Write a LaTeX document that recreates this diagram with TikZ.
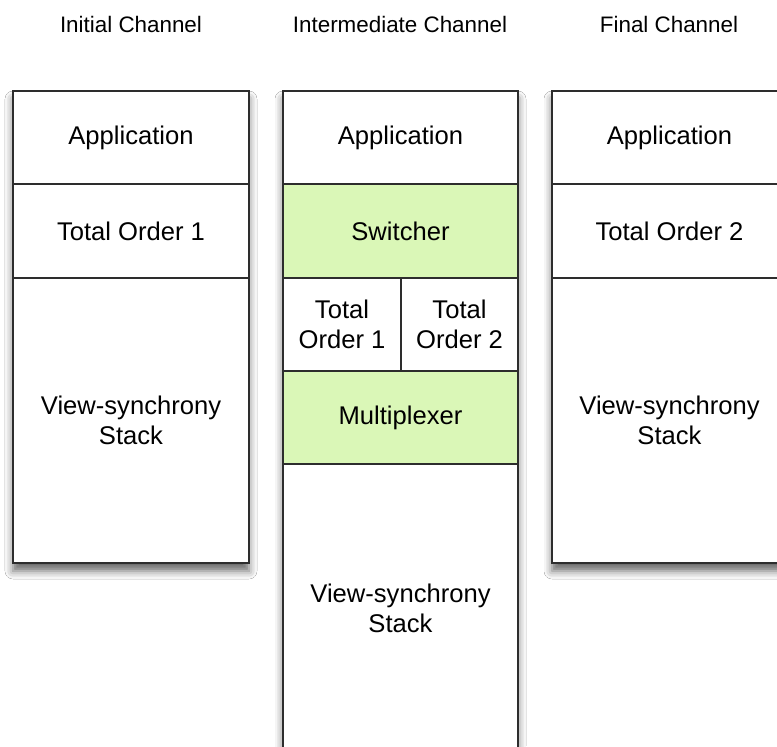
\documentclass[tikz,border=0pt]{standalone}
\usepackage{fontspec}
\setmainfont{Liberation Sans}
\usetikzlibrary{shadows.blur}
\definecolor{layergreen}{RGB}{218,247,183}
\definecolor{edgegray}{RGB}{45,45,45}
\tikzset{
  column/.style={fill=white, draw=none, inner sep=0pt, outer sep=0pt,
    blur shadow={shadow xshift=0pt, shadow yshift=-4pt,
      shadow blur radius=4pt, shadow opacity=60}},
  rim/.style={draw=edgegray, line width=1pt},
  cell/.style={draw=edgegray, line width=0.7pt, inner sep=0pt, outer sep=0pt,
    align=center, font=\fontsize{12.8}{15}\selectfont},
  green cell/.style={cell, fill=layergreen},
  title/.style={font=\fontsize{11.2}{13}\selectfont}
}
% box spanning (x1,y1)-(x2,y2) in picture units: name, style, x1, y1, x2, y2, text
\newcommand\cellbox[7]{%
  \pgfmathsetmacro\cw{(#5-#3)*0.5}%
  \pgfmathsetmacro\ch{(#6-#4)*0.5}%
  \node[#2, minimum width=\cw pt, minimum height=\ch pt] (#1)
    at ({(#3+#5)/2},{(#4+#6)/2}) {#7};}
\begin{document}
\begin{tikzpicture}[x=0.5pt,y=-0.5pt]
\useasboundingbox (0,0) rectangle (777,746);
\fill[white] (0,0) rectangle (777,746);
\begin{scope}
\clip (0,0) rectangle (777,746);

% column titles
\node[title] (t1) at (131,24) {Initial Channel};
\node[title] (t2) at (400,24) {Intermediate Channel};
\node[title] (t3) at (669,24) {Final Channel};

% initial channel
\cellbox{colA}{column}{13}{91}{249}{563}{}
\cellbox{a1}{cell}{13}{91}{249}{184}{Application}
\cellbox{a2}{cell}{13}{184}{249}{278}{Total Order 1}
\cellbox{a3}{cell}{13}{278}{249}{563}{View-synchrony\\Stack}
\draw[rim] (colA.south west) rectangle (colA.north east);

% intermediate channel
\cellbox{colB}{column}{283}{91}{518}{752}{}
\cellbox{b1}{cell}{283}{91}{518}{184}{Application}
\cellbox{b2}{green cell}{283}{184}{518}{278}{Switcher}
\cellbox{b3}{cell}{283}{278}{401}{371}{Total\\Order 1}
\cellbox{b4}{cell}{401}{278}{518}{371}{Total\\Order 2}
\cellbox{b5}{green cell}{283}{371}{518}{464}{Multiplexer}
\cellbox{b6}{cell}{283}{464}{518}{752}{View-synchrony\\Stack}
\draw[rim] (colB.south west) rectangle (colB.north east);

% final channel
\cellbox{colC}{column}{552}{91}{787}{563}{}
\cellbox{c1}{cell}{552}{91}{787}{184}{Application}
\cellbox{c2}{cell}{552}{184}{787}{278}{Total Order 2}
\cellbox{c3}{cell}{552}{278}{787}{563}{View-synchrony\\Stack}
\draw[rim] (colC.south west) rectangle (colC.north east);
\end{scope}
\end{tikzpicture}
\end{document}
